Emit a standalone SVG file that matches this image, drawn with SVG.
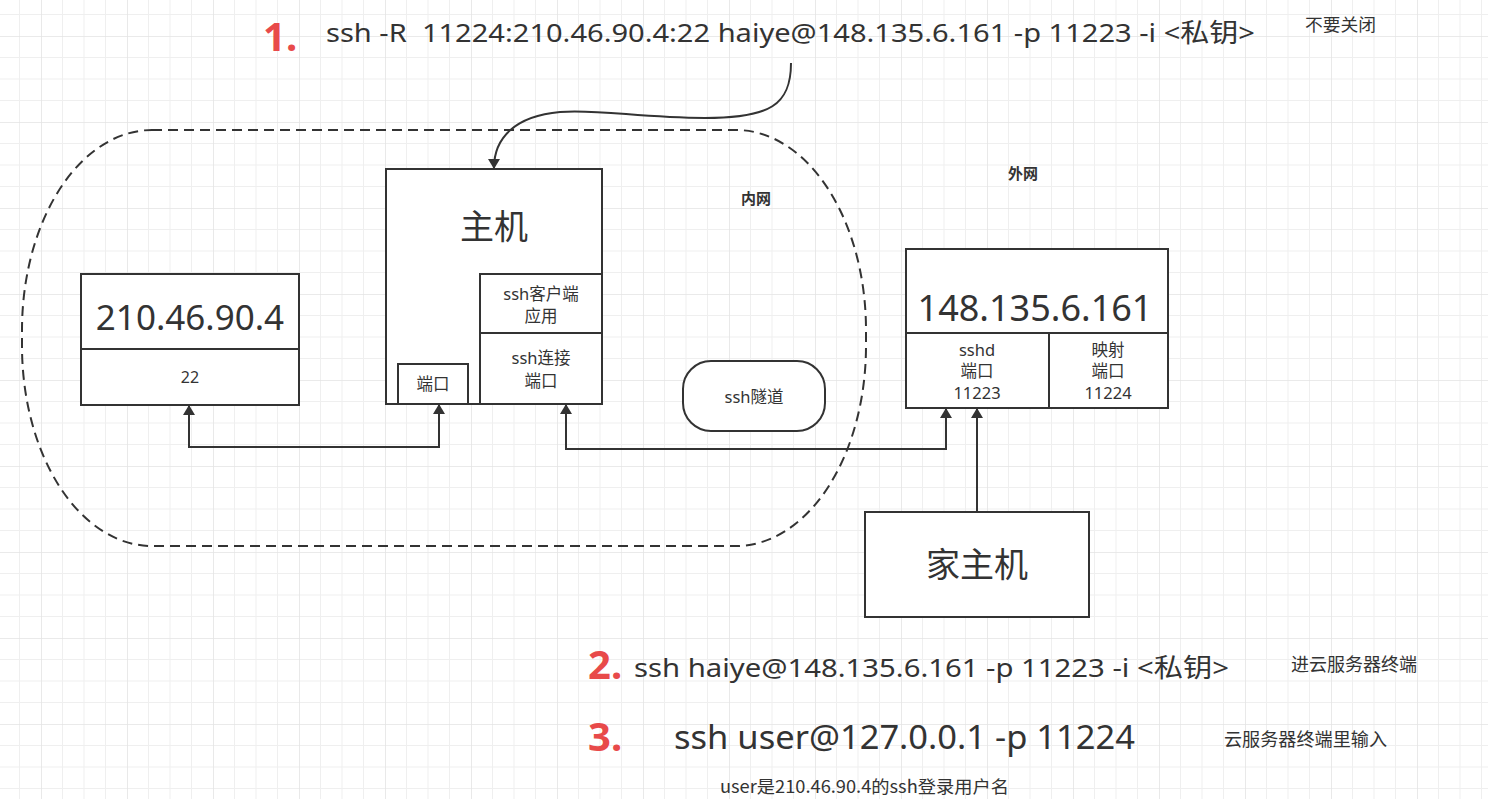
<svg xmlns="http://www.w3.org/2000/svg" width="1488" height="799" viewBox="0 0 1488 799">
<defs>
<pattern id="grid" patternUnits="userSpaceOnUse" x="41" y="36" width="86" height="86">
<path d="M21.5,0V86M43,0V86M64.5,0V86M0,21.5H86M0,43H86M0,64.5H86" stroke="#efefef" stroke-width="1" fill="none"/>
<path d="M0,0V86M0,0H86" stroke="#e4e4e4" stroke-width="1.6" fill="none"/>
</pattern>
<marker id="arr" viewBox="0 0 10 14" refX="9" refY="7" markerWidth="11" markerHeight="14" markerUnits="userSpaceOnUse" orient="auto-start-reverse">
<path d="M0,1 L10,7 L0,13 Z" fill="#333"/>
</marker>
<style>
.box{fill:#fff;stroke:#333;stroke-width:2}
.t{font-family:"Noto Sans","Noto Sans CJK SC",sans-serif;fill:#333;text-anchor:middle}
.cn{font-family:"Noto Sans CJK SC",sans-serif;fill:#333}
.num{font-family:"Noto Sans","Noto Sans CJK SC",sans-serif;font-weight:bold;fill:#e84a4a}
.cmd{font-family:"Noto Sans","Noto Sans CJK SC",sans-serif;fill:#333;white-space:pre}
.conn{fill:none;stroke:#333;stroke-width:2}
</style>
</defs>
<rect width="1488" height="799" fill="#fff"/>
<rect width="1488" height="799" fill="url(#grid)"/>

<g id="intranet">
<rect x="22" y="130" width="844" height="416" rx="130" ry="200" fill="none" stroke="#333" stroke-width="2" stroke-dasharray="10 6"/>
<text class="cn" x="756" y="204" font-size="15" font-weight="bold" text-anchor="middle">内网</text>
</g>
<g id="extranet-label">
<text class="cn" x="1023" y="179" font-size="15" font-weight="bold" text-anchor="middle">外网</text>
</g>

<g id="node-210">
<rect class="box" x="81" y="274" width="218" height="131"/>
<line x1="81" y1="349" x2="299" y2="349" stroke="#333" stroke-width="2"/>
<text class="t" x="190" y="330" font-size="35">210.46.90.4</text>
<text class="t" x="190" y="383" font-size="16">22</text>
</g>

<g id="node-host">
<rect class="box" x="386" y="169" width="216" height="235"/>
<text class="t" x="494" y="239" font-size="34">主机</text>
<rect class="box" x="480" y="274" width="122" height="59"/>
<text class="t" x="541" y="300" font-size="16.5">ssh客户端</text>
<text class="t" x="541" y="322" font-size="16.5">应用</text>
<rect class="box" x="480" y="333" width="122" height="71"/>
<text class="t" x="541" y="364" font-size="16.5">ssh连接</text>
<text class="t" x="541" y="387" font-size="16.5">端口</text>
<rect class="box" x="398" y="364" width="70" height="40"/>
<text class="t" x="433" y="390" font-size="16.5">端口</text>
</g>

<g id="node-tunnel">
<rect class="box" x="683" y="361" width="142" height="70" rx="28" ry="28"/>
<text class="t" x="754" y="403" font-size="16.5">ssh隧道</text>
</g>

<g id="node-cloud">
<rect class="box" x="906" y="249" width="262" height="159"/>
<line x1="906" y1="333" x2="1168" y2="333" stroke="#333" stroke-width="2"/>
<line x1="1049" y1="333" x2="1049" y2="408" stroke="#333" stroke-width="2"/>
<text class="t" x="1035" y="321" font-size="36">148.135.6.161</text>
<text class="t" x="977" y="356" font-size="16.5">sshd</text>
<text class="t" x="977" y="377" font-size="16.5">端口</text>
<text class="t" x="977" y="399" font-size="16.5">11223</text>
<text class="t" x="1108" y="356" font-size="16.5">映射</text>
<text class="t" x="1108" y="377" font-size="16.5">端口</text>
<text class="t" x="1108" y="399" font-size="16.5">11224</text>
</g>

<g id="node-home">
<rect class="box" x="865" y="512" width="224" height="105"/>
<text class="t" x="977" y="577" font-size="34">家主机</text>
</g>

<g id="connectors">
<path class="conn" d="M189,406 V447 H439 V405" marker-start="url(#arr)" marker-end="url(#arr)"/>
<path class="conn" d="M566,405 V449 H946 V409" marker-start="url(#arr)" marker-end="url(#arr)"/>
<path class="conn" d="M977,512 V409" marker-end="url(#arr)"/>
<path class="conn" d="M791,63 C791,105 770,118 705,118 C640,118 600,109 560,112 C515,116 494,138 494,168" marker-end="url(#arr)"/>
</g>

<g id="notes">
<text class="num" x="263" y="51" font-size="40">1.</text>
<text class="cmd" x="326" y="42" font-size="26" textLength="929" lengthAdjust="spacingAndGlyphs" xml:space="preserve">ssh -R  11224:210.46.90.4:22 haiye@148.135.6.161 -p 11223 -i &lt;私钥&gt;</text>
<text class="cn" x="1305" y="31" font-size="17.5" textLength="71" lengthAdjust="spacingAndGlyphs">不要关闭</text>
<text class="num" x="588" y="679" font-size="40">2.</text>
<text class="cmd" x="634" y="677" font-size="26" textLength="595" lengthAdjust="spacingAndGlyphs">ssh haiye@148.135.6.161 -p 11223 -i &lt;私钥&gt;</text>
<text class="cn" x="1291" y="671" font-size="18" textLength="126" lengthAdjust="spacingAndGlyphs">进云服务器终端</text>
<text class="num" x="588" y="751" font-size="40">3.</text>
<text class="cmd" x="674" y="749" font-size="32" textLength="461" lengthAdjust="spacingAndGlyphs">ssh user@127.0.0.1 -p 11224</text>
<text class="cn" x="1224" y="746" font-size="18" textLength="163" lengthAdjust="spacingAndGlyphs">云服务器终端里输入</text>
<text class="cn" x="720" y="793" font-size="17.5" textLength="289" lengthAdjust="spacingAndGlyphs">user是210.46.90.4的ssh登录用户名</text>
</g>
</svg>
